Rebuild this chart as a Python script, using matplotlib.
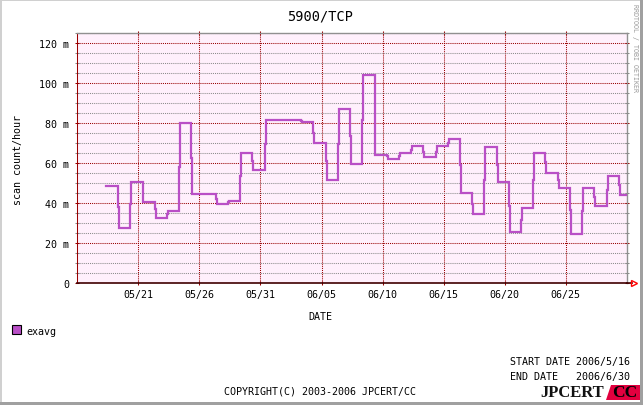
import matplotlib
matplotlib.use('Agg')
import matplotlib.pyplot as plt
from matplotlib.patches import Rectangle, Polygon
from matplotlib.lines import Line2D
from matplotlib.ticker import MultipleLocator, FixedLocator

W, H = 643, 406

# days since 2006/5/16 on which the value changes
change_day = [2, 3, 4, 5, 6, 7, 8, 9, 11, 12, 13, 14, 15, 18, 19, 20, 21, 22, 23,
              24, 25, 26, 27, 28, 29, 30, 31, 32, 33, 34, 35, 36, 37, 38, 39, 40,
              41, 42, 43, 44]
# short-lived value seen while the daily value switches
trans_val = [48.6, 38.3, 39.6, 46.0, 37.1, 34.8, 58.3, 62.5, 42.3, 40.5, 53.5, 61.0,
             69.6, 81.0, 75.3, 61.0, 69.6, 73.5, 81.8, 84.6, 63.5, 63.5, 66.8, 65.8,
             65.8, 70.1, 59.0, 39.8, 51.6, 59.3, 38.5, 31.8, 51.6, 60.5, 51.6, 36.6,
             36.3, 43.3, 46.6, 49.1]
# daily value (scan count/hour, milli)
main_val = [48.6, 27.8, 50.8, 40.6, 32.8, 36.3, 80.3, 44.6, 39.6, 41.1, 65.3, 56.8,
            81.8, 80.5, 70.3, 51.8, 87.2, 59.6, 104.3, 64.3, 62.0, 65.3, 68.8, 63.3,
            68.6, 72.3, 45.3, 34.8, 68.1, 50.6, 25.6, 37.8, 65.3, 55.3, 47.8, 24.6,
            47.8, 38.8, 53.6, 44.3]
end_day = 45

xtick_days = [5, 10, 15, 20, 25, 30, 35, 40]
xtick_labels = ['05/21', '05/26', '05/31', '06/05', '06/10', '06/15', '06/20', '06/25']
ytick_vals = [0, 20, 40, 60, 80, 100, 120]
ytick_labels = ['0', '20 m', '40 m', '60 m', '80 m', '100 m', '120 m']

line_col = '#b94fc6'
red = '#990000'
gray = '#8c8c8c'
mono = 'DejaVu Sans Mono'


def px(x, y):
    return x / W, 1 - y / H


fig = plt.figure(figsize=(W / 100, H / 100), dpi=100)
fig.patch.set_facecolor('white')

left, right, top, bottom = 77.3, 626.8, 33.7, 284.3
ax = fig.add_axes([left / W, 1 - bottom / H, (right - left) / W, (bottom - top) / H])
ax.set_facecolor('#fff0fc')

xs = [change_day[0] + 0.34]
ys = [main_val[0]]
for d, t, m in zip(change_day[1:], trans_val[1:], main_val[1:]):
    xs += [d + 0.34, d + 0.42]
    ys += [t, m]
xs.append(end_day)
ys.append(main_val[-1])
ax.step(xs, ys, where='post', color=line_col, lw=1.6, zorder=5,
        solid_joinstyle='miter')

ax.set_xlim(0, end_day)
ax.set_ylim(0, 125.3)

ax.xaxis.set_major_locator(FixedLocator(xtick_days))
ax.set_xticklabels(xtick_labels)
ax.yaxis.set_major_locator(FixedLocator(ytick_vals))
ax.set_yticklabels(ytick_labels)
ax.yaxis.set_minor_locator(MultipleLocator(5))

dots = (0, (1, 1))
ax.grid(axis='y', which='minor', color=gray, ls=dots, lw=0.75)
ax.grid(axis='y', which='major', color=red, ls=dots, lw=0.75)
ax.grid(axis='x', which='major', color=red, ls=dots, lw=0.75)
ax.set_axisbelow(True)

for s in ('top', 'right'):
    ax.spines[s].set_color('#909090')
    ax.spines[s].set_linewidth(1.0)
ax.spines['left'].set_color(red)
ax.spines['left'].set_linestyle(dots)
ax.spines['left'].set_linewidth(0.75)
ax.spines['bottom'].set_color('#400000')
ax.spines['bottom'].set_linewidth(1.2)

ax.tick_params(which='major', direction='inout', length=3, width=0.75, color=red,
               top=True, right=True, labelsize=7.2, pad=4.3, labelcolor='black')
ax.tick_params(axis='x', which='major', pad=2.5)
ax.tick_params(which='minor', direction='inout', length=2.5, width=0.75, color=gray,
               left=True, right=True)
for lab in ax.get_xticklabels() + ax.get_yticklabels():
    lab.set_family(mono)

# axis extension and arrow
fig.add_artist(Line2D([right / W, 632 / W], [1 - bottom / H] * 2, color='#400000',
                      lw=1.2, transform=fig.transFigure))
fig.add_artist(Line2D([634 / W], [1 - bottom / H], marker='>', ms=5, mfc='none',
                      mec='red', mew=1, transform=fig.transFigure))

fig.text(*px(320.5, 16), '5900/TCP', ha='center', va='center', family=mono, fontsize=9.8)
fig.text(*px(18, 160), 'scan count/hour', rotation=90, ha='center', va='center',
         family=mono, fontsize=7.2)
fig.text(*px(320.3, 317), 'DATE', ha='center', va='center', family=mono, fontsize=7.2)
fig.text(*px(635.5, 48), 'RRDTOOL / TOBI OETIKER', rotation=270, ha='center',
         va='center', family=mono, fontsize=4.8, color='#999999')

fig.add_artist(Rectangle(px(12.3, 335), 8.4 / W, 9 / H, facecolor=line_col,
                         edgecolor='black', lw=0.8, transform=fig.transFigure))
fig.text(*px(26, 332.3), 'exavg', ha='left', va='center', family=mono, fontsize=7.2)

fig.text(*px(510.3, 362), 'START DATE 2006/5/16', ha='left', va='center',
         family=mono, fontsize=7.2)
fig.text(*px(510.3, 377), 'END DATE   2006/6/30', ha='left', va='center',
         family=mono, fontsize=7.2)
fig.text(*px(320, 392), 'COPYRIGHT(C) 2003-2006 JPCERT/CC', ha='center',
         va='center', family=mono, fontsize=7.2)

# logo
fig.add_artist(Polygon([px(611, 386), px(641, 386), px(641, 401), px(606, 401)],
                       closed=True, facecolor='#e2003f', edgecolor='none',
                       transform=fig.transFigure))
fig.text(*px(604, 393.5), 'JPCERT', ha='right', va='center', family='Liberation Serif',
         weight='bold', fontsize=12, color='#111111')
fig.text(*px(624.5, 393.5), 'CC', ha='center', va='center', family='Liberation Serif',
         weight='bold', fontsize=12.5, color='black')

# frame
fig.add_artist(Rectangle((0, 1 - 2 / H), 1, 2 / H, facecolor='#d0d0d0',
                         edgecolor='none', transform=fig.transFigure))
fig.add_artist(Rectangle((0, 0), 2 / W, 1, facecolor='#d0d0d0',
                         edgecolor='none', transform=fig.transFigure))
fig.add_artist(Rectangle((1 - 3 / W, 0), 3 / W, 1, facecolor='#a0a0a0',
                         edgecolor='none', transform=fig.transFigure))
fig.add_artist(Rectangle((0, 0), 1, 3 / H, facecolor='#a0a0a0',
                         edgecolor='none', transform=fig.transFigure))

fig.savefig('out.png', dpi=100)
